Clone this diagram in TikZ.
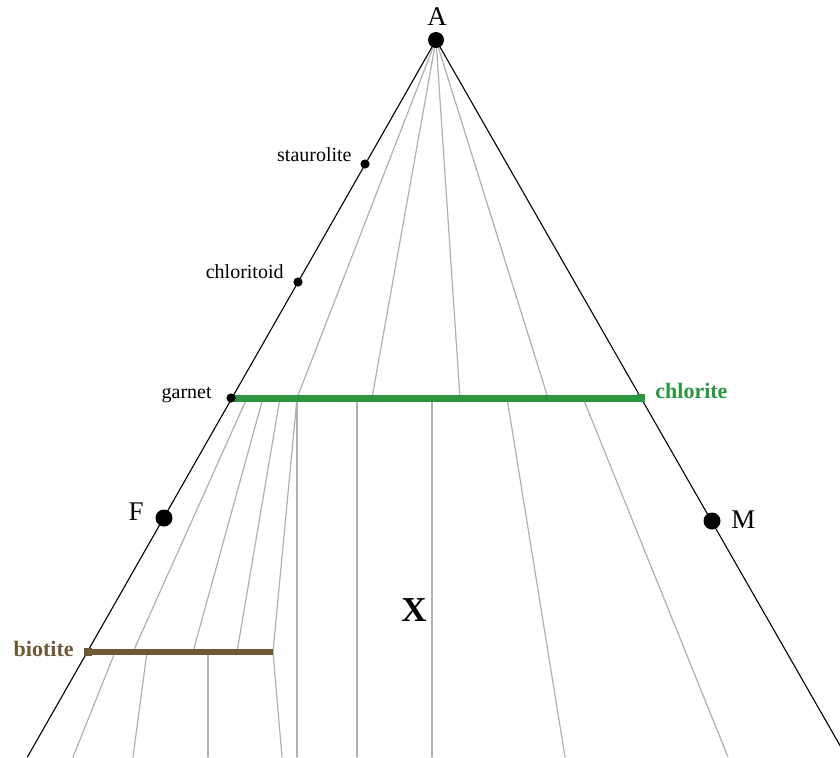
\documentclass[tikz,border=0pt]{standalone}
\usepackage{fontspec}
\setmainfont{Liberation Serif}
\usepackage{xcolor}
\definecolor{chlgreen}{RGB}{42,150,62}
\definecolor{biobrown}{RGB}{112,88,52}

\begin{document}
\begin{tikzpicture}[x=0.5pt,y=-0.5pt,line cap=round,
  edge/.style={black,line width=0.55pt},
  tie/.style={gray!62,line width=0.6pt},
  minlbl/.style={font=\fontsize{10}{12}\selectfont},
  apexlbl/.style={font=\fontsize{13.5}{16}\selectfont},
  bigdot/.style={circle,fill=black,inner sep=0pt,minimum size=8.5pt},
  smalldot/.style={circle,fill=black,inner sep=0pt,minimum size=4.6pt},
  capsq/.style={rectangle,inner sep=0pt,minimum size=4.2pt}]
\useasboundingbox (0,0) rectangle (840,757);
\begin{scope}
\clip (0,0) rectangle (840,757);
\coordinate (A) at (436,40);
\coordinate (BL) at (27.4,757);
\coordinate (BR) at (846.6,757);
\coordinate (Grt) at (231,398);
\coordinate (Chl) at (641,398);
\coordinate (Bt) at (88,652);
\coordinate (BtEnd) at (273,652);
\foreach \x in {297,372,460,548}
  \draw[tie] (A) -- (\x,398);
\foreach \a/\b in {247/133,263/193,280/237,297/273}
  \draw[tie] (\a,398) -- (\b,652);
\foreach \x in {297,357,432}
  \draw[tie] (\x,398) -- (\x,757);
\draw[tie] (BtEnd) -- (282,757);
\draw[tie] (507,398) -- (565,757);
\draw[tie] (583,398) -- (728,757);
\foreach \a/\b in {115/73,147/133,208/208}
  \draw[tie] (\a,652) -- (\b,757);
\draw[chlgreen,line width=3.5pt,line cap=butt] (Grt) -- (Chl);
\draw[biobrown,line width=3.2pt,line cap=butt] (Bt) -- (BtEnd);
\draw[edge] (BL) -- (A) -- (BR);
\end{scope}
\node[capsq,fill=chlgreen] (chlsq) at (Chl) {};
\node[capsq,fill=biobrown] (btsq) at (Bt) {};
\node[bigdot,minimum size=8pt] (a) at (A) {};
\node[bigdot] (f) at (164,518) {};
\node[bigdot] (m) at (712,521) {};
\node[smalldot] (st) at (365,164) {};
\node[smalldot] (ctd) at (298,282) {};
\node[smalldot] (grt) at (Grt) {};
\node[apexlbl,anchor=base] (alab) at (437,25) {A};
\node[apexlbl,anchor=base east,inner sep=0pt] (flab) at (144,520) {F};
\node[apexlbl,anchor=base west,inner sep=0pt] (mlab) at (731,528) {M};
\node[minlbl,anchor=base east,inner sep=0pt] (stlab) at (352,161) {staurolite};
\node[minlbl,anchor=base east,inner sep=0pt] (ctdlab) at (284,278) {chloritoid};
\node[minlbl,anchor=base east,inner sep=0pt] (grtlab) at (212,398) {garnet};
\node[anchor=base west,inner sep=0pt,text=chlgreen,font=\fontsize{11}{13}\selectfont\bfseries] (chllab) at (655,398) {chlorite};
\node[anchor=base east,inner sep=0pt,text=biobrown,font=\fontsize{11}{13}\selectfont\bfseries] (btlab) at (74,656) {biotite};
\node[font=\fontsize{17.5}{20}\selectfont\bfseries] (xlab) at (414,610) {X};
\end{tikzpicture}
\end{document}
